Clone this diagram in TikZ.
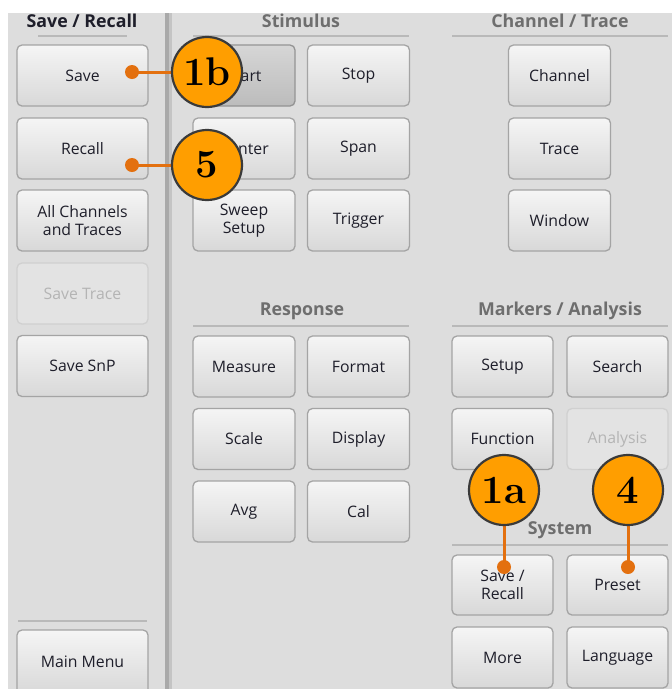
\documentclass[tikz,border=0pt]{standalone}
\usepackage{fontspec}
\setmainfont{Open Sans}
\definecolor{panel}{HTML}{DDDDDD}
\definecolor{btntop}{HTML}{F5F5F5}
\definecolor{btnbot}{HTML}{D8D8D8}
\definecolor{btnborder}{HTML}{A4A4A4}
\definecolor{prtop}{HTML}{D6D6D6}
\definecolor{prbot}{HTML}{BCBCBC}
\definecolor{dis}{HTML}{E3E3E3}
\definecolor{disborder}{HTML}{D0D0D0}
\definecolor{distext}{HTML}{B4B4B4}
\definecolor{btntext}{HTML}{1E1E2A}
\definecolor{titlegray}{HTML}{6E6E6E}
\definecolor{rule}{HTML}{B9B9B9}
\definecolor{calloutfill}{HTML}{FF9E00}
\definecolor{leadcol}{HTML}{E3700F}
\definecolor{calloutedge}{HTML}{3A3A3A}
\definecolor{divdark}{HTML}{A9A9A9}
\definecolor{divlight}{HTML}{C4C4C4}
\tikzset{
  btn/.style={rounded corners=5pt, draw=btnborder, line width=1.3pt,
    top color=btntop, bottom color=btnbot, text=btntext,
    font=\fontsize{15.8}{18}\selectfont, align=center, inner sep=0pt},
  pressed/.style={btn, draw=btnborder!90!black, top color=prtop, bottom color=prbot},
  disabled/.style={btn, draw=disborder, top color=dis, bottom color=dis, text=distext},
  wide/.style={minimum width=131pt, minimum height=61pt},
  mid/.style={minimum width=102pt, minimum height=61pt},
  title/.style={font=\fontsize{17.8}{20}\selectfont\bfseries, text=titlegray, inner sep=0pt},
  sectrule/.style={draw=rule, line width=1.4pt},
  callout/.style={circle, fill=calloutfill, draw=calloutedge, line width=2.2pt,
    minimum size=70pt, inner sep=0pt,
    font=\fontspec{Latin Modern Roman}\fontsize{40}{40}\selectfont\bfseries},
  dot/.style={circle, fill=leadcol, minimum size=14pt, inner sep=0pt},
  lead/.style={draw=leadcol, line width=3pt},
}
\begin{document}
\begin{tikzpicture}[x=1pt, y=-1pt]
\useasboundingbox (0,0) rectangle (672,689);
\fill[white] (0,0) rectangle (672,689);
\begin{scope}
\clip (0,0) rectangle (672,689);
\fill[panel] (8,13) rectangle (672,689);
% divider
\fill[divdark] (165,13) rectangle (168.5,689);
\fill[divlight] (168.5,13) rectangle (172,689);

% titles and rules
\node[title, text=btntext] (tsr) at (82,21) {Save / Recall};
\draw[sectrule] (38,36) -- (127,36);
\node[title] (tstim) at (301,21) {Stimulus};
\draw[sectrule] (193,36) -- (409,36);
\node[title] (tch) at (560,21) {Channel / Trace};
\draw[sectrule] (452,36) -- (668,36);
\node[title] (tresp) at (302,311) {Response};
\draw[sectrule] (193,326) -- (409,326);
\node[title] (tmark) at (560,311) {Markers / Analysis};
\draw[sectrule] (452,326) -- (668,326);
\node[title] (tsys) at (560,530) {System};
\draw[sectrule] (452,545) -- (668,545);
\draw[sectrule] (18,621) -- (147,621);

% Save / Recall column
\node[btn, wide] (save) at (82.5,75.5) {Save};
\node[btn, wide] (recall) at (82.5,148.5) {Recall};
\node[btn, wide] (allch) at (82.5,220.5) {All Channels\\and Traces};
\node[disabled, wide] (savetrace) at (82.5,293.5) {Save Trace};
\node[btn, wide] (savesnp) at (82.5,366) {Save SnP};
\node[btn, wide, minimum height=64pt] (mainmenu) at (82.5,662) {Main Menu};

% Stimulus
\node[pressed, mid] (start) at (244,75.5) {Start};
\node[btn, mid] (stop) at (358.5,75.5) {Stop};
\node[btn, mid] (center) at (244,148.5) {Center};
\node[btn, mid] (span) at (358.5,148.5) {Span};
\node[btn, mid] (sweep) at (244,220.5) {Sweep\\Setup};
\node[btn, mid] (trigger) at (358.5,220.5) {Trigger};

% Channel / Trace
\node[btn, mid] (channel) at (559.5,75.5) {Channel};
\node[btn, mid] (trace) at (559.5,148.5) {Trace};
\node[btn, mid] (window) at (559.5,220.5) {Window};

% Response
\node[btn, mid] (measure) at (244,366.5) {Measure};
\node[btn, mid] (format) at (358.5,366.5) {Format};
\node[btn, mid] (scale) at (244,439) {Scale};
\node[btn, mid] (display) at (358.5,439) {Display};
\node[btn, mid] (avg) at (244,511.5) {Avg};
\node[btn, mid] (cal) at (358.5,511.5) {Cal};

% Markers / Analysis
\node[btn, mid, minimum width=101pt] (setup) at (502.5,366.5) {Setup};
\node[btn, mid, minimum width=101pt] (search) at (617.5,366.5) {Search};
\node[btn, mid, minimum width=101pt] (function) at (502.5,439) {Function};
\node[disabled, mid, minimum width=101pt] (analysis) at (617.5,439) {Analysis};

% System
\node[btn, mid, minimum width=101pt, minimum height=60pt] (sysrecall) at (502.5,585) {Save /\\Recall};
\node[btn, mid, minimum width=101pt, minimum height=60pt] (preset) at (617.5,585) {Preset};
\node[btn, mid, minimum width=101pt] (more) at (502.5,657.5) {More};
\node[btn, mid, minimum width=101pt] (language) at (617.5,657.5) {Language};

% callouts
\node[dot] (d1b) at (132,72) {};
\node[dot] (d5) at (132,165) {};
\node[dot] (d1a) at (504,567) {};
\node[dot] (d4) at (628,567) {};
\coordinate (p1b) at (207,72);
\coordinate (p5) at (207,165);
\coordinate (p1a) at (504,490);
\coordinate (p4) at (628,490);
\draw[lead] (d1b.center) -- (p1b);
\draw[lead] (d5.center) -- (p5);
\draw[lead] (d1a.center) -- (p1a);
\draw[lead] (d4.center) -- (p4);
\node[callout] (c1b) at (p1b) {1b};
\node[callout] (c5) at (p5) {5};
\node[callout] (c1a) at (p1a) {1a};
\node[callout] (c4) at (p4) {4};
\end{scope}
\end{tikzpicture}
\end{document}
